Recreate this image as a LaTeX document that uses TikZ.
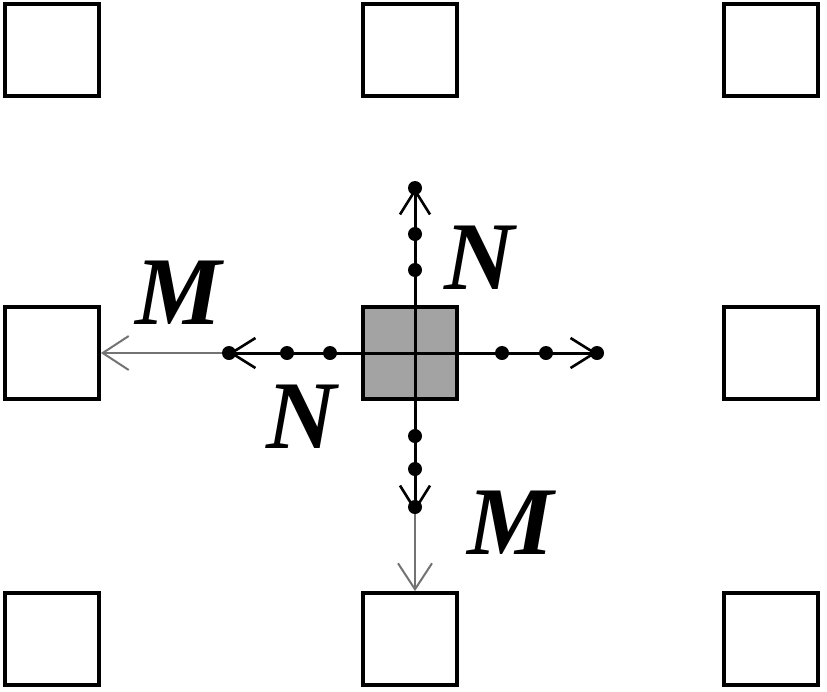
\documentclass[tikz,border=0pt]{standalone}
\usepackage{fontspec}
\setmainfont{Liberation Serif}
\usetikzlibrary{arrows.meta}
\begin{document}
\begin{tikzpicture}[x=1pt,y=-1pt,
  cell/.style={draw=black,line width=3.8pt,minimum width=94pt,minimum height=92pt,inner sep=0pt,fill=white},
  hub/.style={cell,fill=black!36},
  blk/.style={draw=black,line width=3pt,-{Straight Barb[length=24pt,width=30pt,line width=2.6pt]}},
  gry/.style={draw=black!55,line width=2pt,-{Straight Barb[length=26pt,width=34pt,line width=2pt]}},
  dot/.style={circle,fill=black,inner sep=0pt,minimum size=14pt},
  lab/.style={font=\fontsize{97}{97}\selectfont\bfseries\itshape,inner sep=0pt}]
\useasboundingbox (0,0) rectangle (827,691);
% outer squares
\node[cell] (nw) at (52,50) {};
\node[cell] (n)  at (410,50) {};
\node[cell] (ne) at (771,50) {};
\node[cell] (w)  at (52,353) {};
\node[cell] (e)  at (771,353) {};
\node[cell] (sw) at (52,639) {};
\node[cell] (s)  at (410,639) {};
\node[cell] (se) at (771,639) {};
% centre square
\node[hub] (c) at (410,353) {};
\coordinate (o) at (415,353);
% end points
\coordinate (ue) at (415,188);
\coordinate (de) at (415,512);
\coordinate (le) at (229,353);
\coordinate (re) at (597,353);
% black arrows
\draw[blk] (o) -- (ue);
\draw[blk] (o) -- (de);
\draw[blk] (o) -- (le);
\draw[blk] (o) -- (re);
% grey arrows
\draw[gry] (le) -- (w.east);
\draw[gry] (de) -- (de |- s.north);
% redraw square border over lines
\node[cell,fill=none] at (c) {};
% dots
\node[dot] (u1) at (415,270) {};
\node[dot] (u2) at (415,234) {};
\node[dot] (u3) at (ue) {};
\node[dot] (d1) at (415,436) {};
\node[dot] (d2) at (415,469) {};
\node[dot] (d3) at (415,507) {};
\node[dot] (l1) at (330,353) {};
\node[dot] (l2) at (287,353) {};
\node[dot] (l3) at (le) {};
\node[dot] (r1) at (502,353) {};
\node[dot] (r2) at (546,353) {};
\node[dot] (r3) at (re) {};
% labels
\node[lab] (mw) at (179,293) {M};
\node[lab] (nu) at (480,258) {N};
\node[lab] (nl) at (302,417) {N};
\node[lab] (ms) at (511,523) {M};
\end{tikzpicture}
\end{document}
